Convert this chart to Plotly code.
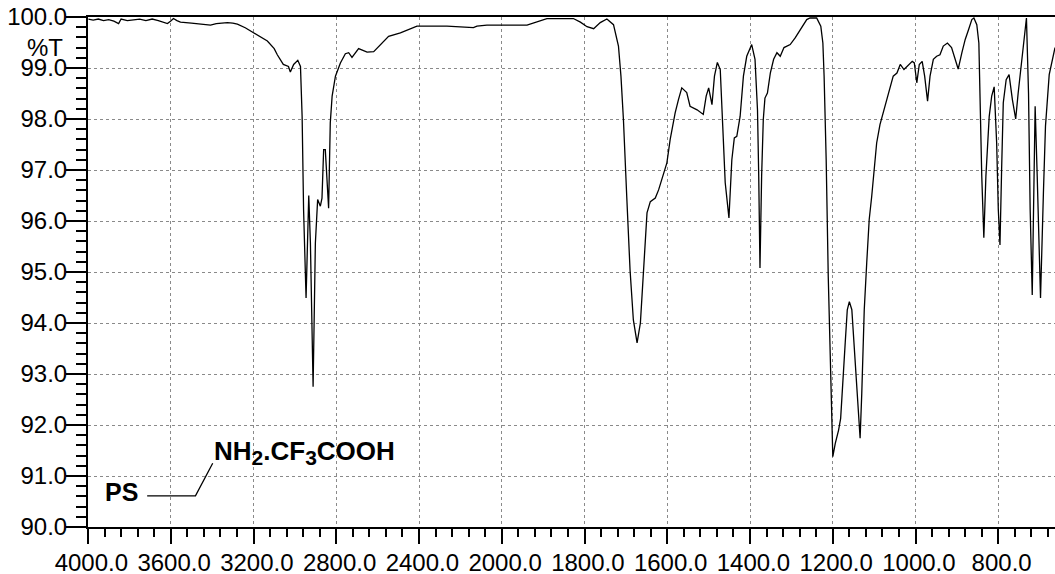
import numpy as np
import plotly.graph_objects as go

# IR spectrum: wavenumber (cm-1) and transmittance (%T)
wavenumber = [
    3998, 3975, 3950, 3925, 3900, 3875, 3852, 3840, 3810, 3780, 3750, 3720, 3690, 3660, 3640,
    3616, 3600, 3587, 3570, 3553, 3500, 3450, 3408, 3380, 3326, 3300, 3278, 3240, 3200, 3160,
    3133, 3100, 3085, 3056, 3040, 3031, 3022, 3006, 2986, 2978, 2973, 2965, 2958, 2946, 2933,
    2925, 2912, 2901, 2890, 2877, 2869, 2861, 2853, 2837, 2829, 2820, 2804, 2780, 2756, 2740,
    2724, 2692, 2651, 2619, 2587, 2547, 2490, 2442, 2410, 2265, 2137, 2120, 2072, 1939, 1907,
    1891, 1827, 1810, 1794, 1778, 1762, 1746, 1730, 1718, 1712, 1706, 1698, 1690, 1682, 1673,
    1665, 1657, 1649, 1641, 1629, 1621, 1613, 1601, 1593, 1581, 1573, 1565, 1553, 1545, 1528,
    1513, 1506, 1500, 1492, 1486, 1479, 1472, 1466, 1460, 1451, 1444, 1438, 1432, 1424, 1416,
    1408, 1396, 1388, 1382, 1379, 1376, 1372, 1368, 1364, 1358, 1351, 1343, 1335, 1327, 1318,
    1303, 1291, 1279, 1263, 1255, 1239, 1229, 1224, 1221, 1216, 1211, 1205, 1200, 1194, 1186,
    1181, 1174, 1170, 1165, 1160, 1154, 1149, 1142, 1134, 1130, 1124, 1118, 1112, 1106, 1100,
    1094, 1086, 1078, 1070, 1062, 1054, 1045, 1037, 1028, 1017, 1008, 1003, 997, 991, 984,
    978, 971, 965, 957, 949, 941, 933, 923, 913, 905, 897, 888, 880, 872, 864,
    859, 852, 847, 844, 840, 835, 830, 822, 816, 810, 804, 800, 796, 792, 788,
    781, 774, 766, 758, 752, 743, 735, 732, 727, 723, 718, 711, 706, 698, 691,
    686, 677, 667, 663,
]
transmittance = [
    99.96, 99.94, 99.96, 99.93, 99.95, 99.92, 99.87, 99.96, 99.93, 99.95, 99.96, 99.93, 99.96, 99.93, 99.90,
    99.87, 99.92, 99.97, 99.93, 99.90, 99.88, 99.86, 99.84, 99.87, 99.89, 99.88, 99.86, 99.79, 99.69, 99.60,
    99.53, 99.38, 99.26, 99.07, 99.05, 99.03, 98.92, 99.07, 99.15, 99.08, 99.03, 98.05, 96.22, 94.49, 96.50,
    95.57, 92.75, 95.57, 96.42, 96.29, 96.45, 97.40, 97.40, 96.25, 97.92, 98.45, 98.84, 99.10, 99.28, 99.30,
    99.21, 99.38, 99.31, 99.32, 99.46, 99.62, 99.69, 99.77, 99.82, 99.82, 99.79, 99.82, 99.84, 99.84, 99.92,
    99.97, 99.97, 99.90, 99.81, 99.77, 99.89, 99.96, 99.85, 99.43, 98.84, 97.99, 96.48, 95.04, 94.06, 93.61,
    94.00, 95.18, 96.16, 96.38, 96.45, 96.61, 96.81, 97.14, 97.60, 98.12, 98.38, 98.61, 98.52, 98.25, 98.18,
    98.09, 98.45, 98.61, 98.28, 98.84, 99.11, 98.97, 97.86, 96.75, 96.06, 97.20, 97.63, 97.66, 98.05, 98.84,
    99.23, 99.46, 99.17, 98.18, 96.88, 95.08, 96.88, 97.99, 98.41, 98.51, 98.90, 99.17, 99.30, 99.23, 99.40,
    99.46, 99.59, 99.75, 99.95, 99.98, 99.98, 99.82, 99.49, 98.84, 97.20, 94.91, 92.62, 91.38, 91.64, 91.90,
    92.13, 92.95, 93.61, 94.26, 94.42, 94.26, 93.61, 92.62, 91.74, 92.62, 94.26, 95.18, 96.03, 96.48, 96.94,
    97.53, 97.89, 98.12, 98.35, 98.58, 98.84, 98.90, 99.07, 98.97, 99.05, 99.13, 99.10, 98.71, 99.07, 99.13,
    98.84, 98.35, 98.84, 99.17, 99.23, 99.26, 99.43, 99.49, 99.40, 99.17, 98.98, 99.30, 99.56, 99.75, 99.95,
    99.98, 99.85, 99.49, 98.18, 96.88, 95.67, 96.88, 98.05, 98.45, 98.63, 97.53, 96.22, 95.53, 97.01, 98.32,
    98.77, 98.87, 98.38, 98.00, 98.51, 99.17, 99.75, 99.98, 98.51, 96.22, 94.55, 98.25, 96.88, 94.49, 96.55,
    97.86, 98.87, 99.30, 99.40,
]

x_tick_wavenumbers = [4000, 3600, 3200, 2800, 2400, 2000, 1800, 1600, 1400, 1200, 1000, 800]
x_tick_labels = ["4000.0", "3600.0", "3200.0", "2800.0", "2400.0", "2000.0",
                 "1800.0", "1600.0", "1400.0", "1200.0", "1000.0", "800.0"]


def to_axis(wn):
    """Spectrometer abscissa: scale doubles below 2000 cm-1."""
    wn = np.asarray(wn, dtype=float)
    return np.where(wn >= 2000, (4000 - wn) / 2.0, 1000 + (2000 - wn))


FONT = "Liberation Sans, Arial, sans-serif"
TICK_SIZE = 24

fig = go.Figure()
fig.add_trace(go.Scatter(
    x=to_axis(wavenumber), y=transmittance, mode="lines",
    line=dict(color="black", width=1.3), hoverinfo="skip", showlegend=False,
))

fig.update_layout(
    width=1055, height=574,
    margin=dict(l=88, r=0, t=17, b=47, autoexpand=False),
    paper_bgcolor="white", plot_bgcolor="white",
    font=dict(family=FONT, size=TICK_SIZE, color="black"),
    showlegend=False,
)

fig.update_xaxes(
    range=[0, 2337], automargin=False,
    tickmode="array", tickvals=to_axis(x_tick_wavenumbers).tolist(),
    ticktext=["\u00a0" + t for t in x_tick_labels],
    tickangle=0,
    ticks="outside", ticklen=15, tickwidth=2, tickcolor="black",
    showline=True, linecolor="black", linewidth=2, mirror=True,
    showgrid=True, gridcolor="#8a8a8a", griddash="dot", gridwidth=1,
    zeroline=False,
    tickfont=dict(family=FONT, size=TICK_SIZE, color="black"),
    ticklabelstandoff=-2,
    minor=dict(tickmode="linear", tick0=0, dtick=40, ticks="outside", ticklen=8, tickwidth=2,
               tickcolor="black", showgrid=False),
)
fig.update_yaxes(
    range=[90, 100], automargin=False,
    tickmode="linear", dtick=1, tick0=90, tickformat=".1f",
    ticks="outside", ticklen=20, tickwidth=2, tickcolor="black",
    showline=True, linecolor="black", linewidth=2, mirror=False,
    showgrid=True, gridcolor="#8a8a8a", griddash="dot", gridwidth=1,
    zeroline=False,
    tickfont=dict(family=FONT, size=TICK_SIZE, color="black"),
    ticklabelstandoff=-6,
    minor=dict(tickmode="linear", tick0=90, dtick=0.2, ticks="outside", ticklen=10, tickwidth=2,
               tickcolor="black", showgrid=False),
)

# axis unit label
fig.add_annotation(text="%T", xref="paper", yref="y", x=-0.0445, y=99.40,
                   xanchor="center", yanchor="middle", showarrow=False,
                   font=dict(family=FONT, size=TICK_SIZE, color="black"))

# sample label with leader line
SUB = "<sub><span style='font-size:21px'>{}</span></sub>"
fig.add_annotation(text="<b>PS</b>", xref="x", yref="y", x=125.7, y=90.686,
                   xanchor="right", yanchor="middle", showarrow=False,
                   font=dict(family=FONT, size=25, color="black"))
fig.add_annotation(text="<b>NH" + SUB.format("2") + ".CF" + SUB.format("3") + "COOH</b>",
                   xref="x", yref="y",
                   x=299, y=91.46, xanchor="left", yanchor="middle", showarrow=False,
                   font=dict(family=FONT, size=26, color="black"))
fig.add_shape(type="path", xref="x", yref="y",
              path="M 143 90.61 L 259.7 90.61 L 301.4 91.25",
              line=dict(color="black", width=1.3))

fig.write_html("out.html", config={"displayModeBar": False},
               post_script="document.body.style.margin='0px';")
